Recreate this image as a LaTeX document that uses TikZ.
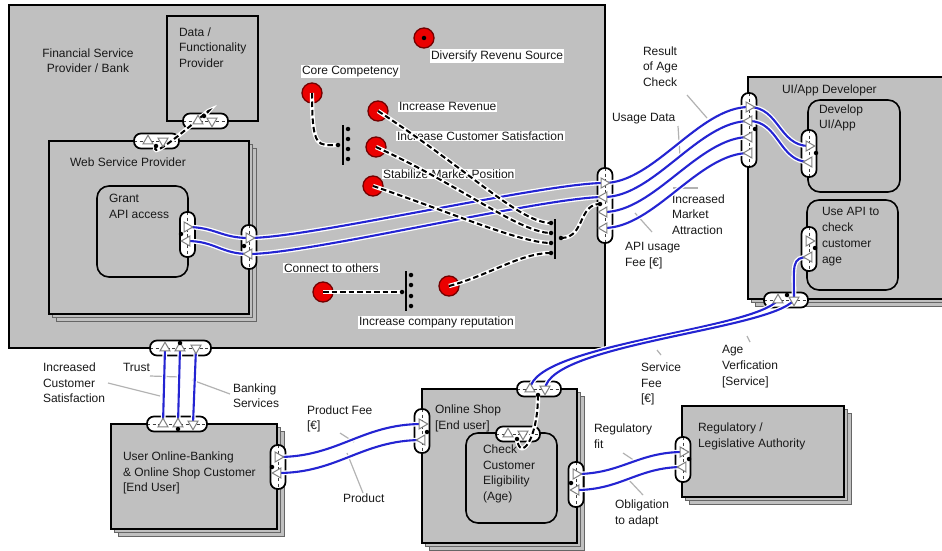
\documentclass[tikz,border=0pt]{standalone}
\usepackage{fontspec}
\setmainfont{Liberation Sans}
\usetikzlibrary{shapes.geometric,shadows}
\definecolor{boxgray}{RGB}{192,192,192}
\definecolor{valblue}{RGB}{36,36,210}
\definecolor{goalred}{RGB}{235,0,0}
\definecolor{leadergray}{RGB}{178,178,178}
\pgfdeclarelayer{bg}
\pgfdeclarelayer{cap}
\pgfdeclarelayer{val}
\pgfdeclarelayer{dep}
\pgfsetlayers{bg,cap,val,dep,main}
\begin{document}
\begin{tikzpicture}[x=1pt,y=-1pt,
  every node/.style={inner sep=0pt, outer sep=0pt},
  lbl/.style={font=\fontsize{12}{15.8}\selectfont, text=black!90, align=left, anchor=north west},
  glbl/.style={lbl, fill=white, inner sep=1pt},
  actor/.style={draw=black, line width=1.6pt, fill=boxgray, anchor=north west},
  stacked/.style={actor,
     copy shadow={shadow xshift=7pt, shadow yshift=-7pt, fill=boxgray, draw=black!60, line width=0.9pt},
     copy shadow={shadow xshift=3.5pt, shadow yshift=-3.5pt, fill=boxgray, draw=black!60, line width=0.9pt}},
  activity/.style={actor, rounded corners=12pt},
  capdash/.style={draw=black!75, line width=1pt, dash pattern=on 3pt off 2.5pt},
  vcap/.style={draw=black, line width=1.7pt, fill=white, rounded corners=7pt, minimum width=15pt,
     path picture={\draw[capdash] (path picture bounding box.north) -- (path picture bounding box.south);}},
  hcap/.style={draw=black, line width=1.7pt, fill=white, rounded corners=7pt, minimum height=15pt,
     path picture={\draw[capdash] (path picture bounding box.west) -- (path picture bounding box.east);}},
  tri/.style={regular polygon, regular polygon sides=3, draw=black!50, fill=white, line width=1pt, minimum size=11.5pt},
  tr/.style={tri, shape border rotate=270},
  tl/.style={tri, shape border rotate=90},
  tu/.style={tri},
  td/.style={tri, shape border rotate=180},
  pdot/.style={circle, fill=black, minimum size=4.5pt},
  goal/.style={circle, fill=goalred, draw=black!55!red, line width=1.3pt, minimum size=20pt},
  bar/.style={rectangle, fill=black, minimum width=1.8pt, minimum height=40pt},
  val/.style={draw=white, double=valblue, double distance=2.1pt, line width=1.3pt},
  dep/.style={preaction={draw=white, line width=4.4pt}, draw=black, line width=2pt, dash pattern=on 5.5pt off 3pt},
  leader/.style={draw=leadergray, line width=1.2pt}
]
\useasboundingbox (0,0) rectangle (942,551);

% ---------- actors and activities ----------
\begin{pgfonlayer}{bg}
  \fill[white] (0,0) rectangle (942,551);
  \node[actor, minimum width=596pt, minimum height=343pt] (fin) at (9,5) {};
  \node[actor, minimum width=91pt, minimum height=105pt] (datap) at (167,16) {};
  \node[stacked, minimum width=200pt, minimum height=173pt] (web) at (49,141) {};
  \node[activity, minimum width=91pt, minimum height=91pt] (grant) at (97,186) {};
  \node[stacked, minimum width=215pt, minimum height=222pt] (ui) at (748,77) {};
  \node[activity, minimum width=92pt, minimum height=92pt] (dev) at (808,100) {};
  \node[activity, minimum width=91pt, minimum height=90pt] (useapi) at (807,200) {};
  \node[stacked, minimum width=166pt, minimum height=105pt] (user) at (111,424) {};
  \node[stacked, minimum width=155pt, minimum height=154pt] (shop) at (422,389) {};
  \node[activity, minimum width=91pt, minimum height=90pt] (check) at (466,433) {};
  \node[stacked, minimum width=162pt, minimum height=91pt] (reg) at (682,406) {};
\end{pgfonlayer}

% ---------- ports, goals, texts ----------
\begin{pgfonlayer}{cap}
  \node[hcap, minimum width=45pt] (pData) at (205.5,121) {};
  \node[hcap, minimum width=45pt] (pWebT) at (156.5,141) {};
  \node[vcap, minimum height=45pt] (pGrant) at (187.5,234.5) {};
  \node[vcap, minimum height=44pt] (pWebR) at (249,247) {};
  \node[vcap, minimum height=75pt] (pFinR) at (605,205.5) {};
  \node[hcap, minimum width=61pt] (pFinB) at (180.5,348) {};
  \node[vcap, minimum height=74pt] (pUiL) at (749,130) {};
  \node[vcap, minimum height=47pt] (pDev) at (809,153.5) {};
  \node[vcap, minimum height=44pt] (pUse) at (809,249) {};
  \node[hcap, minimum width=44pt] (pUiB) at (786,300) {};
  \node[hcap, minimum width=60pt] (pUserT) at (177,424) {};
  \node[vcap, minimum height=44pt] (pUserR) at (278,467) {};
  \node[hcap, minimum width=44pt] (pShopT) at (539,389) {};
  \node[hcap, minimum width=44pt] (pCheck) at (518,434) {};
  \node[vcap, minimum height=44pt] (pShopL) at (422,431) {};
  \node[vcap, minimum height=45pt] (pShopR) at (576,484.5) {};
  \node[vcap, minimum height=45pt] (pReg) at (683,459.5) {};

  \node[goal] (gDiv) at (424,38) {};
  \node[goal] (gCore) at (312,93) {};
  \node[goal] (gRev) at (378,111) {};
  \node[goal] (gSat) at (376,147) {};
  \node[goal] (gStab) at (373,186) {};
  \node[goal] (gConn) at (323,292) {};
  \node[goal] (gRep) at (449,286) {};

  % actor and activity names
  \node[lbl, align=center, anchor=north] (lFin) at (88,48.5) {Financial Service\\Provider / Bank};
  \node[lbl] (lData) at (179,27.5) {Data /\\Functionality\\Provider};
  \node[lbl] (lWeb) at (70,157.5) {Web Service Provider};
  \node[lbl] (lGrant) at (109,194.5) {Grant\\API access};
  \node[lbl] (lUi) at (782,84.5) {UI/App Developer};
  \node[lbl] (lDev) at (819,104.5) {Develop\\UI/App};
  \node[lbl] (lUse) at (822,207.5) {Use API to\\check\\customer\\age};
  \node[lbl] (lUser) at (123,451.5) {User Online-Banking\\\& Online Shop Customer\\{}[End User]};
  \node[lbl] (lShop) at (435,404.5) {Online Shop\\{}[End user]};
  \node[lbl] (lChk) at (483,444.5) {Check\\Customer\\Eligibility\\(Age)};
  \node[lbl] (lReg) at (698,422.5) {Regulatory /\\Legislative Authority};

  % value object names
  \node[lbl] (lResult) at (643,46.5) {Result\\of Age\\Check};
  \node[lbl] (lUsage) at (612,113.5) {Usage Data};
  \node[lbl] (lMkt) at (672,194.5) {Increased\\Market\\Attraction};
  \node[lbl] (lApi) at (625,242.5) {API usage\\Fee [€]};
  \node[lbl] (lCust) at (43,362.5) {Increased\\Customer\\Satisfaction};
  \node[lbl] (lTrust) at (123,363.5) {Trust};
  \node[lbl] (lBank) at (233,383.5) {Banking\\Services};
  \node[lbl] (lPFee) at (307,405.5) {Product Fee\\{}[€]};
  \node[lbl] (lProd) at (343,493.5) {Product};
  \node[lbl] (lSFee) at (641,362.5) {Service\\Fee\\{}[€]};
  \node[lbl] (lAge) at (722,345.5) {Age\\Verfication\\{}[Service]};
  \node[lbl] (lRegFit) at (594,423.5) {Regulatory\\fit};
  \node[lbl] (lObl) at (615,499.5) {Obligation\\to adapt};

  % goal names
  \node[glbl] (lDiv) at (430,49.5) {Diversify Revenu Source};
  \node[glbl] (lCore) at (301,65.5) {Core Competency};
  \node[glbl] (lRev) at (398,101.5) {Increase Revenue};
  \node[glbl] (lSat) at (396,130.5) {Increase Customer Satisfaction};
  \node[glbl] (lStab) at (382,168.5) {Stabilize Market Position};
  \node[glbl] (lConn) at (283,262.5) {Connect to others};
  \node[glbl] (lRep) at (358,315.5) {Increase company reputation};

  % leader lines from names to their value transfers
  \draw[leader] (687,95) -- (707,118);
  \draw[leader] (678,126) -- (680,156);
  \draw[leader] (673,188) -- (698,188);
  \draw[leader] (635,213) -- (652,232);
  \draw[leader] (108,383) -- (160,396);
  \draw[leader] (150,376) -- (180,377);
  \draw[leader] (192,380) -- (230,394);
  \draw[leader] (340,433) -- (354,442);
  \draw[leader] (347,453) -- (363,493);
  \draw[leader] (657,350) -- (661,355);
  \draw[leader] (747,336) -- (750,342);
  \draw[leader] (623,453) -- (635,461);
  \draw[leader] (628,479) -- (643,495);
\end{pgfonlayer}

% ---------- value ports ----------
\node[tu] (tDataU) at (198,121) {};
\node[td] (tDataD) at (212,121) {};
\node[tu] (tWebTU) at (148,141) {};
\node[td] (tWebTD) at (163,141) {};
\node[tr] (tGrantO) at (187,227) {};
\node[tl] (tGrantI) at (187,241) {};
\node[tr] (tWebRO) at (249,238) {};
\node[tl] (tWebRI) at (249,254) {};
\node[tr] (tFinR1) at (604,183) {};
\node[tl] (tFinR2) at (604,197) {};
\node[tl] (tFinR3) at (604,212) {};
\node[tl] (tFinR4) at (604,228) {};
\node[tr] (tUi1) at (749,107) {};
\node[tl] (tUi2) at (749,121) {};
\node[tl] (tUi3) at (749,137) {};
\node[tl] (tUi4) at (749,153) {};
\node[tr] (tDev1) at (809,146) {};
\node[tl] (tDev2) at (809,162) {};
\node[tr] (tUse1) at (809,241) {};
\node[tl] (tUse2) at (809,257) {};
\node[tu] (tUiBU) at (778,300) {};
\node[td] (tUiBD) at (794,300) {};
\node[tu] (tShopTU) at (530,389) {};
\node[td] (tShopTD) at (545,389) {};
\node[tu] (tChkU) at (508,434) {};
\node[td] (tChkD) at (523,434) {};
\node[tu] (tFinB1) at (165,348) {};
\node[tu] (tFinB2) at (180,348) {};
\node[td] (tFinB3) at (196,348) {};
\node[tu] (tUserT1) at (163,424) {};
\node[tu] (tUserT2) at (178,424) {};
\node[td] (tUserT3) at (193,424) {};
\node[tr] (tUserR1) at (278,457) {};
\node[tl] (tUserR2) at (278,473) {};
\node[tr] (tShopL1) at (422,424) {};
\node[tl] (tShopL2) at (422,440) {};
\node[tr] (tShopR1) at (576,474) {};
\node[tl] (tShopR2) at (576,490) {};
\node[tr] (tReg1) at (683,452) {};
\node[tl] (tReg2) at (683,467) {};

% ---------- connection dots on interfaces ----------
\node[pdot] (dData) at (204,116) {};
\node[pdot] (dWebT) at (156,146) {};
\node[pdot] (dGrant) at (181,234) {};
\node[pdot] (dWebR) at (244,246) {};
\node[pdot] (dFinR) at (600,204) {};
\node[pdot] (dFinB) at (180,343) {};
\node[pdot] (dUserT) at (178,429) {};
\node[pdot] (dUserR) at (272,467) {};
\node[pdot] (dUi) at (755,129) {};
\node[pdot] (dDev) at (816,153) {};
\node[pdot] (dUse) at (815,248) {};
\node[pdot] (dUiB) at (787,295) {};
\node[pdot] (dShopT) at (538,395) {};
\node[pdot] (dChk) at (517,439) {};
\node[pdot] (dShopL) at (427,432) {};
\node[pdot] (dShopR) at (571,483) {};
\node[pdot] (dReg) at (689,459) {};
\node[pdot] (dDiv) at (424,38) {};

% ---------- AND junction bars ----------
\node[bar] (bar1) at (343,144.5) {};
\node[pdot] (j1a) at (348,129) {};
\node[pdot] (j1b) at (348,139) {};
\node[pdot] (j1c) at (348,149) {};
\node[pdot] (j1d) at (348,159) {};
\node[pdot] (j1in) at (338,145) {};
\node[bar] (bar2) at (555,238.5) {};
\node[pdot] (j2a) at (551,223) {};
\node[pdot] (j2b) at (551,233) {};
\node[pdot] (j2c) at (551,243) {};
\node[pdot] (j2d) at (551,253) {};
\node[pdot] (j2out) at (561,238) {};
\node[bar] (bar3) at (406,290.5) {};
\node[pdot] (j3a) at (411,275) {};
\node[pdot] (j3b) at (411,285) {};
\node[pdot] (j3c) at (411,296) {};
\node[pdot] (j3d) at (411,306) {};
\node[pdot] (j3in) at (402,292) {};

% ---------- value transfers ----------
\begin{pgfonlayer}{val}
  \draw[val] (tGrantO.center) .. controls +(28,0) and +(-28,0) .. (tWebRO.center);
  \draw[val] (tGrantI.center) .. controls +(28,0) and +(-28,0) .. (tWebRI.center);
  \draw[val] (tWebRO.center) .. controls +(60,0) and +(-60,0) .. (tFinR1.center);
  \draw[val] (tWebRI.center) .. controls +(60,0) and +(-60,0) .. (tFinR2.center);
  \draw[val] (tFinR1.center) .. controls +(50,0) and +(-50,0) .. (tUi1.center);
  \draw[val] (tFinR2.center) .. controls +(50,0) and +(-50,0) .. (tUi2.center);
  \draw[val] (tFinR3.center) .. controls +(50,0) and +(-50,0) .. (tUi3.center);
  \draw[val] (tFinR4.center) .. controls +(50,0) and +(-50,0) .. (tUi4.center);
  \draw[val] (tUi1.center) .. controls +(30,0) and +(-30,0) .. (tDev1.center);
  \draw[val] (tUi2.center) .. controls +(30,0) and +(-30,0) .. (tDev2.center);
  \draw[val] (tUse2.center) .. controls +(-18,0) and +(0,-35) .. (tUiBD.center);
  \draw[val] (tShopTU.center) .. controls +(5,-45) and +(-25,30) .. (tUiBU.center);
  \draw[val] (tShopTD.center) .. controls +(5,-45) and +(-25,30) .. (tUiBD.center);
  \draw[val] (tFinB1.center) -- (tUserT1.center);
  \draw[val] (tFinB2.center) -- (tUserT2.center);
  \draw[val] (tFinB3.center) -- (tUserT3.center);
  \draw[val] (tUserR1.center) .. controls +(60,0) and +(-60,0) .. (tShopL1.center);
  \draw[val] (tUserR2.center) .. controls +(60,0) and +(-60,0) .. (tShopL2.center);
  \draw[val] (tShopR1.center) .. controls +(45,0) and +(-45,0) .. (tReg1.center);
  \draw[val] (tShopR2.center) .. controls +(45,0) and +(-45,0) .. (tReg2.center);
\end{pgfonlayer}

% ---------- dependency paths ----------
\begin{pgfonlayer}{dep}
  \draw[dep] (dWebT.center) .. controls (146,168) and (230,90) .. (dData.center);
  \draw[dep] (dShopT.center) .. controls (538,440) and (520,462) .. (dChk.center);
  \draw[dep] (gCore.center) .. controls (312,150) and (318,145) .. (j1in.center);
  \draw[dep] (gRev.center) .. controls (470,171) and (520,223) .. (j2a.center);
  \draw[dep] (gSat.center) .. controls (460,185) and (520,233) .. (j2b.center);
  \draw[dep] (gStab.center) .. controls (450,212) and (520,243) .. (j2c.center);
  \draw[dep] (gRep.center) .. controls (490,275) and (520,253) .. (j2d.center);
  \draw[dep] (j2out.center) .. controls (585,238) and (578,204) .. (dFinR.center);
  \draw[dep] (gConn.center) -- (j3in.center);
\end{pgfonlayer}
\end{tikzpicture}
\end{document}
